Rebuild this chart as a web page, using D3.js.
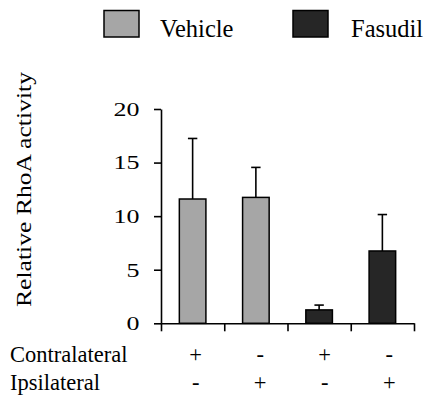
<!DOCTYPE html>
<html>
<head>
<meta charset="utf-8">
<script src="https://cdn.jsdelivr.net/npm/d3@7/dist/d3.min.js"></script>
<style>
  html, body { margin: 0; padding: 0; background: #fff; }
  svg { display: block; }
</style>
</head>
<body>
<svg id="chart" width="427" height="400"></svg>
<script>
// Relative RhoA activity by treatment and side
const groups = ["Vehicle", "Vehicle", "Fasudil", "Fasudil"];
const contralateral = ["+", "-", "+", "-"];
const ipsilateral = ["-", "+", "-", "+"];
const means = [11.6, 11.75, 1.25, 6.75];
const upperErrors = [5.65, 2.8, 0.45, 3.4];
const yTicks = [0, 5, 10, 15, 20];
const seriesNames = ["Vehicle", "Fasudil"];
const seriesColors = ["#a6a6a6", "#262626"];

const SERIF = "'Liberation Serif', 'Times New Roman', Times, serif";

const svg = d3.select("#chart");
const color = d3.scaleOrdinal().domain(seriesNames).range(seriesColors);

const plot = { left: 161, right: 414, top: 109, bottom: 323.3 };

const x = d3.scaleBand().domain(d3.range(groups.length)).range([plot.left, plot.right]).padding(0);
const xEdge = d3.scaleLinear().domain([0, groups.length]).range([plot.left, plot.right]);
const y = d3.scaleLinear().domain([0, 20]).range([plot.bottom, plot.top]);
const barW = x.bandwidth() * 0.42;

function label(sel) {
  return sel.style("font-family", SERIF).attr("fill", "#000");
}

// Legend
const legend = svg.append("g");
const legendItems = [
  { name: "Vehicle", box: 104, text: 160 },
  { name: "Fasudil", box: 293, text: 351 }
];
legendItems.forEach(d => {
  legend.append("rect")
    .attr("x", d.box).attr("y", 10.5)
    .attr("width", 35).attr("height", 26.5)
    .attr("fill", color(d.name)).attr("stroke", "#000").attr("stroke-width", 1.5);
  legend.append("text")
    .attr("x", d.text).attr("y", 36.5)
    .style("font-size", "24.5px")
    .call(label)
    .text(d.name);
});

// Y axis
const yAxis = svg.append("g")
  .attr("transform", `translate(${plot.left},0)`)
  .call(d3.axisLeft(y).tickValues(yTicks).tickSize(7).tickSizeOuter(0).tickFormat(""));
yAxis.select(".domain").attr("stroke", "#000").attr("stroke-width", 1.6);
yAxis.selectAll(".tick line").attr("stroke", "#000").attr("stroke-width", 1.6);

svg.append("g").selectAll("text")
  .data(yTicks)
  .join("text")
  .attr("x", 139.5)
  .attr("y", d => y(d) + 6.8)
  .attr("text-anchor", "end")
  .style("font-size", "19.5px")
  .attr("textLength", d => String(d).length * 13)
  .attr("lengthAdjust", "spacingAndGlyphs")
  .call(label)
  .text(d => d);

// X axis with separators between groups
const xAxis = svg.append("g")
  .attr("transform", `translate(0,${plot.bottom})`)
  .call(d3.axisBottom(xEdge).ticks(groups.length).tickSize(8).tickSizeOuter(0).tickFormat(""));
xAxis.select(".domain").attr("stroke", "#000").attr("stroke-width", 1.6);
xAxis.selectAll(".tick line").attr("stroke", "#000").attr("stroke-width", 1.6);

// Bars
const idx = d3.range(groups.length);
svg.append("g").selectAll("rect")
  .data(idx)
  .join("rect")
  .attr("x", i => x(i) + (x.bandwidth() - barW) / 2)
  .attr("y", i => y(means[i]))
  .attr("width", barW)
  .attr("height", i => y(0) - y(means[i]))
  .attr("fill", i => color(groups[i]))
  .attr("stroke", "#000")
  .attr("stroke-width", 1.5);

// Upper error bars
const err = svg.append("g").attr("stroke", "#000").attr("stroke-width", 1.6);
idx.forEach(i => {
  const cx = x(i) + x.bandwidth() / 2;
  const top = y(means[i] + upperErrors[i]);
  err.append("line").attr("x1", cx).attr("x2", cx).attr("y1", y(means[i])).attr("y2", top);
  err.append("line").attr("x1", cx - 4.7).attr("x2", cx + 4.7).attr("y1", top).attr("y2", top);
});

// Y axis title
svg.append("text")
  .attr("transform", "translate(31,189.5) rotate(-90)")
  .attr("text-anchor", "middle")
  .style("font-size", "22px")
  .attr("textLength", 235)
  .attr("lengthAdjust", "spacingAndGlyphs")
  .call(label)
  .text("Relative RhoA activity");

// Condition rows below the axis
const rows = [
  { label: "Contralateral", values: contralateral, y: 362 },
  { label: "Ipsilateral", values: ipsilateral, y: 390 }
];
rows.forEach(r => {
  svg.append("text").attr("x", 10).attr("y", r.y).style("font-size", "22.5px").call(label).text(r.label);
  svg.append("g").selectAll("text")
    .data(r.values)
    .join("text")
    .attr("x", (d, i) => x(i) + x.bandwidth() / 2 + 3 + i * 1.3)
    .attr("y", r.y)
    .attr("text-anchor", "middle")
    .style("font-size", "22.5px")
    .call(label)
    .text(d => d);
});
</script>
</body>
</html>
